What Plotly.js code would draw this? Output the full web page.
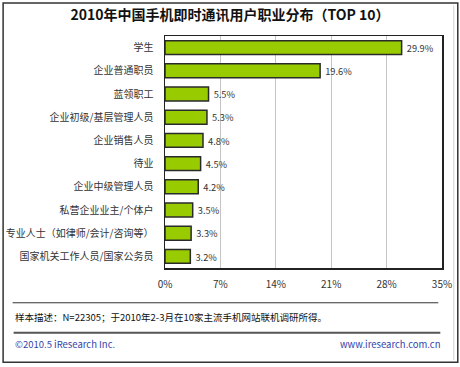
<!DOCTYPE html>
<html><head><meta charset="utf-8">
<script src="https://cdn.plot.ly/plotly-3.0.1.min.js"></script>
<style>html,body{margin:0;padding:0;background:#fff;}#chart{width:460px;height:367px;}</style>
</head><body><div id="chart"></div>
<script>
const categories = ["学生","企业普通职员","蓝领职工","企业初级/基层管理人员","企业销售人员","待业","企业中级管理人员","私营企业业主/个体户","专业人士（如律师/会计/咨询等）","国家机关工作人员/国家公务员"];
const values = [29.9,19.6,5.5,5.3,4.8,4.5,4.2,3.5,3.3,3.2];
const tickVals = [0,7,14,21,28,35];
const tickText = ["0%","7%","14%","21%","28%","35%"];
const titleText = "2010年中国手机即时通讯用户职业分布（TOP 10）";
const noteText = "样本描述：N=22305；于2010年2-3月在10家主流手机网站联机调研所得。";
const leftFoot = "©2010.5 iResearch Inc.";
const rightFoot = "www.iresearch.com.cn";

const W=460,H=367, L=164.5, R=441.7, T=35.5, B=267.7;
const px = x => (x-L)/(R-L);
const py = y => (B-y)/(B-T);
const FONT = "Noto Sans CJK SC, Noto Sans, sans-serif";

const trace = {
  type:'bar', orientation:'h',
  y: categories, x: values,
  text: values.map(v => '\u00a0' + v.toFixed(1) + '%'),
  textposition:'outside', cliponaxis:false,
  textfont:{family:FONT,size:10,color:'#333'},
  marker:{color:'#99CC00', line:{color:'#2a2a2a', width:1.5}},
  hoverinfo:'none'
};

const layout = {
  width:W, height:H,
  margin:{l:L, r:W-R, t:T, b:H-B, pad:0},
  paper_bgcolor:'#fff', plot_bgcolor:'#fff',
  showlegend:false, bargap:0.4,
  font:{family:FONT, size:10, color:'#333'},
  title:{text:'<b>'+titleText+'</b>', x:0.5, xref:'container', y:1-15/H, yref:'container', yanchor:'middle',
         font:{family:FONT, size:14, color:'#111'}},
  xaxis:{range:[0,35], tickvals:tickVals, ticktext:tickText, showgrid:true, gridcolor:'#c4c4c4', gridwidth:1,
         zeroline:false, showline:true, mirror:true, linecolor:'#222', linewidth:1.5, ticks:'', ticklabelstandoff:6,
         tickfont:{family:FONT,size:10,color:'#333'}, fixedrange:true},
  yaxis:{autorange:'reversed', showgrid:false, showline:true, mirror:true, linecolor:'#222', linewidth:1.5, ticks:'',
         ticklabelstandoff:8, tickfont:{family:FONT,size:10,color:'#333'}, fixedrange:true},
  shapes:[
    {type:'rect', xref:'paper', yref:'paper', x0:px(2.5), x1:px(457.5), y0:py(2.5), y1:py(362), line:{color:'#333', width:1.5}, layer:'below'},
    {type:'line', xref:'paper', yref:'paper', x0:px(453.5), x1:px(453.5), y0:py(5), y1:py(360), line:{color:'#d0d0d0', width:1}},
    {type:'line', xref:'paper', yref:'paper', x0:px(12), x1:px(438), y0:py(302.5), y1:py(302.5), line:{color:'#333', width:1}},
    {type:'line', xref:'paper', yref:'paper', x0:px(13), x1:px(440), y0:py(332.5), y1:py(332.5), line:{color:'#555', width:2}}
  ],
  annotations:[
    {text:noteText, xref:'paper', yref:'paper', x:px(12), y:py(317), xanchor:'left', yanchor:'middle', showarrow:false,
     font:{family:FONT,size:9.5,color:'#111'}},
    {text:leftFoot, xref:'paper', yref:'paper', x:px(12), y:py(344), xanchor:'left', yanchor:'middle', showarrow:false,
     font:{family:FONT,size:9.5,color:'#3344aa'}},
    {text:rightFoot, xref:'paper', yref:'paper', x:px(442), y:py(344), xanchor:'right', yanchor:'middle', showarrow:false,
     font:{family:FONT,size:9.5,color:'#3344aa'}}
  ]
};
Plotly.newPlot('chart',[trace],layout,{displayModeBar:false, staticPlot:true});
</script></body></html>
